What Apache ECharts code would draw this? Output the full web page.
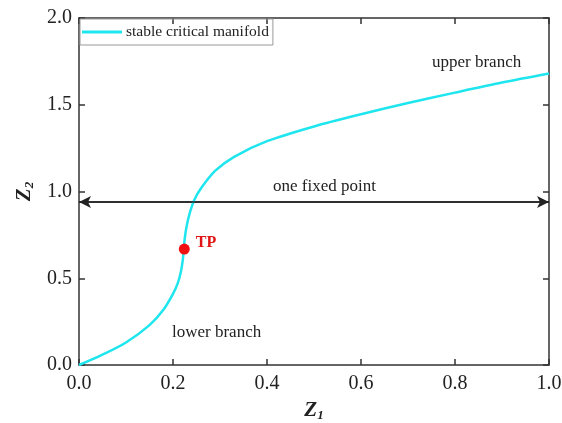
<!DOCTYPE html>
<html>
<head>
<meta charset="utf-8">
<script src="https://cdn.jsdelivr.net/npm/echarts@6/dist/echarts.min.js"></script>
<style>
  html, body { margin: 0; padding: 0; background: #fff; }
  #chart { width: 562px; height: 423px; }
</style>
</head>
<body>
<div id="chart"></div>
<script>
// critical manifold
const z1 = [0, 0.05, 0.1, 0.15, 0.18, 0.2, 0.21, 0.217, 0.221, 0.223, 0.225, 0.229, 0.235, 0.245,
  0.26, 0.29, 0.33, 0.4, 0.5, 0.6, 0.7, 0.8, 0.9, 1.0];
const z2 = [0, 0.06, 0.13, 0.23, 0.32, 0.41, 0.47, 0.54, 0.61, 0.67, 0.73, 0.80, 0.87, 0.95,
  1.02, 1.12, 1.20, 1.29, 1.375, 1.445, 1.51, 1.57, 1.628, 1.68];
const tpPoint = [0.224, 0.668];
const fixedPointLine = [[0, 0.94], [1, 0.94]];
const xTicks = { min: 0, max: 1, interval: 0.2 };
const yTicks = { min: 0, max: 2, interval: 0.5 };

const serif = '"Liberation Serif", "DejaVu Serif", serif';
const axisColor = '#333';
const cyan = '#1fe6ee';

const chart = echarts.init(document.getElementById('chart'));

const manifold = z1.map((x, i) => [x, z2[i]]);

function baseAxis(extra) {
  return Object.assign({
    type: 'value',
    axisLine: { show: true, onZero: false, lineStyle: { color: axisColor, width: 1.5 } },
    axisTick: { show: true, inside: true, length: 6, lineStyle: { color: axisColor, width: 1.5 } },
    splitLine: { show: false }
  }, extra);
}

const subRich = {
  z: { fontFamily: serif, fontSize: 21, fontWeight: 'bold', fontStyle: 'italic', color: '#222' },
  s: { fontFamily: serif, fontSize: 13, fontWeight: 'bold', fontStyle: 'italic', color: '#222', padding: [10, 0, 0, 0] }
};

const option = {
  animation: false,
  backgroundColor: '#fff',
  grid: { left: 79, right: 13, top: 18, bottom: 58, outerBoundsMode: 'none' },
  legend: {
    left: 80, top: 19,
    data: ['stable critical manifold'],
    itemWidth: 40, itemHeight: 3,
    padding: [5, 4, 5, 2],
    borderColor: '#999', borderWidth: 1,
    textStyle: { fontFamily: serif, fontSize: 15.5, color: '#222', padding: [0, 0, 0, -1] },
    icon: 'rect'
  },
  xAxis: [
    baseAxis(Object.assign({
      position: 'bottom',
      axisLabel: { fontFamily: serif, fontSize: 20, color: '#222', margin: 9,
        formatter: v => v.toFixed(1) },
      name: '{z|Z}{s|1}',
      nameLocation: 'middle',
      nameGap: 34,
      nameTextStyle: { rich: subRich }
    }, xTicks)),
    baseAxis(Object.assign({ position: 'top', axisLabel: { show: false } }, xTicks))
  ],
  yAxis: [
    baseAxis(Object.assign({
      position: 'left',
      axisLabel: { fontFamily: serif, fontSize: 20, color: '#222', margin: 7,
        formatter: v => v.toFixed(1) },
      name: '{z|Z}{s|2}',
      nameLocation: 'middle',
      nameGap: 42,
      nameRotate: 90,
      nameTextStyle: { rich: subRich }
    }, yTicks)),
    baseAxis(Object.assign({ position: 'right', axisLabel: { show: false } }, yTicks))
  ],
  series: [
    {
      name: 'stable critical manifold',
      type: 'line',
      data: manifold,
      smooth: 0.3,
      showSymbol: false,
      lineStyle: { color: cyan, width: 2.5 },
      itemStyle: { color: cyan },
      z: 3
    },
    {
      name: 'fixed',
      type: 'line',
      data: fixedPointLine,
      showSymbol: false,
      lineStyle: { color: '#222', width: 1.5 },
      silent: true,
      markLine: {
        silent: true,
        symbol: ['arrow', 'arrow'],
        symbolSize: [9, 12],
        lineStyle: { color: '#222', width: 1.5, type: 'solid' },
        label: { show: false },
        data: [[{ coord: fixedPointLine[0] }, { coord: fixedPointLine[1] }]]
      },
      z: 2
    },
    {
      name: 'TP',
      type: 'scatter',
      data: [tpPoint],
      symbolSize: 11,
      itemStyle: { color: '#f01010', opacity: 1 },
      label: {
        show: true, position: 'right', distance: 6, formatter: 'TP',
        fontFamily: serif, fontSize: 16, fontWeight: 'bold', color: '#e01515', offset: [0, -6]
      },
      z: 4
    }
  ],
  graphic: [
    { type: 'text', left: 432, top: 54, style: { text: 'upper branch', font: '17px ' + serif, fill: '#222' } },
    { type: 'text', left: 273, top: 178, style: { text: 'one fixed point', font: '17px ' + serif, fill: '#222' } },
    { type: 'text', left: 172, top: 324, style: { text: 'lower branch', font: '17px ' + serif, fill: '#222' } }
  ]
};

chart.setOption(option);
</script>
</body>
</html>
